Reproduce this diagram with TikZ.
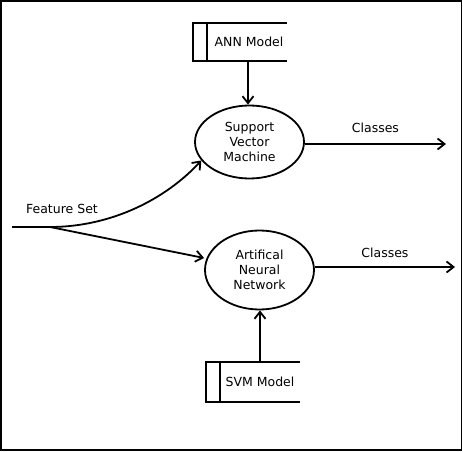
\documentclass[tikz,border=0pt]{standalone}
\usepackage{fontspec}
\setmainfont{DejaVu Sans}
\usetikzlibrary{arrows.meta,shapes.geometric}
\begin{document}
\begin{tikzpicture}[x=1pt,y=-1pt,
  line width=1.8pt,
  arr/.style={-{Straight Barb[length=7pt,width=11pt,line width=1.8pt]}},
  proc/.style={draw,ellipse,minimum width=109pt,minimum height=73pt,inner sep=0pt,align=center,font=\fontsize{12.5}{15}\selectfont},
  lbl/.style={font=\fontsize{12.5}{15}\selectfont,inner sep=0pt}]
\useasboundingbox (0,0) rectangle (463,452);
\draw (1,1) rectangle (461.5,450);
% ANN Model store
\draw (287,23) -- (193,23) -- (193,61) -- (287,61);
\draw (207,23) -- (207,61);
\node[lbl] (annm) at (249,42) {ANN Model};
\coordinate (annmb) at (248,61);
% SVM Model store
\draw (300,362) -- (206,362) -- (206,402) -- (300,402);
\draw (220,362) -- (220,402);
\node[lbl] (svmm) at (260,382) {SVM Model};
\coordinate (svmmt) at (260,362);
% processes
\node[proc] (svm) at (249.5,142) {Support\\Vector\\Machine};
\node[proc,minimum height=79pt] (ann) at (259.5,270) {Artifical\\Neural\\Network};
% outputs
\coordinate (o1) at (446,144);
\coordinate (o2) at (455,267);
\draw[arr] (svm.east |- o1) -- (o1) node[lbl,midway,above=10pt] (c1) {Classes};
\draw[arr] (ann.east |- o2) -- (o2) node[lbl,midway,above=8pt] (c2) {Classes};
% model arrows
\draw[arr] (annmb) -- (svm.north -| annmb);
\draw[arr] (svmmt) -- (ann.south -| svmmt);
% feature set
\coordinate (fs0) at (12,227);
\coordinate (fs1) at (50,227);
\node[lbl] (fs) at (62,209) {Feature Set};
\draw (fs0) -- (fs1);
\draw[arr] (fs1) .. controls (110,227) and (165,200) .. (svm.201);
\draw[arr] (fs1) -- (ann.west |- 0,258);
\end{tikzpicture}
\end{document}
